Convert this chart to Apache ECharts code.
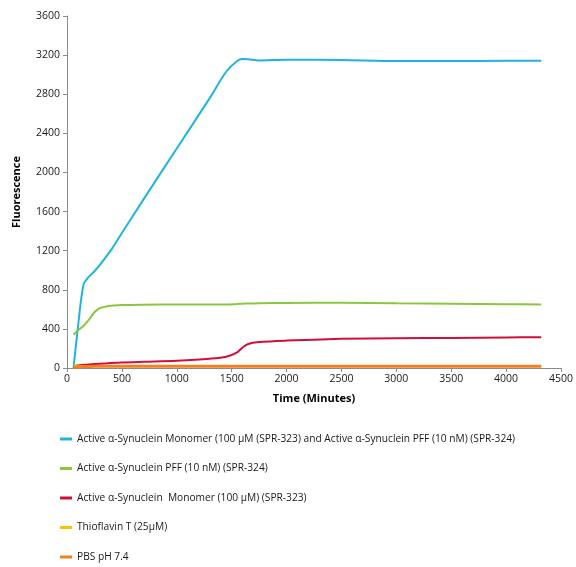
<!DOCTYPE html>
<html>
<head>
<meta charset="utf-8">
<script src="https://cdn.jsdelivr.net/npm/echarts@6/dist/echarts.min.js"></script>
<style>
  html, body { margin: 0; padding: 0; background: #fff; }
  #chart { width: 576px; height: 567px; }
</style>
</head>
<body>
<div id="chart"></div>
<script>
// time points (minutes)
const times = [60, 100, 150, 200, 250, 300, 400, 500, 700, 1000, 1300, 1450, 1550, 1600, 1650, 1750, 2000, 2500, 3000, 3500, 4000, 4320];

const monomerPlusPff = [0, 420, 850, 935, 990, 1055, 1205, 1380, 1730, 2245, 2760, 3030, 3140, 3160, 3158, 3145, 3153, 3150, 3140, 3140, 3142, 3142];
const pffOnly = [340, 385, 430, 495, 570, 612, 636, 644, 648, 650, 650, 650, 655, 658, 660, 663, 666, 667, 662, 658, 653, 650];
const monomerOnly = [10, 28, 32, 36, 40, 44, 50, 55, 63, 75, 95, 115, 160, 210, 245, 265, 280, 298, 305, 308, 312, 315];
const thioflavin = [25, 22, 21, 20, 20, 20, 20, 20, 20, 20, 20, 20, 20, 20, 20, 20, 20, 20, 20, 20, 20, 20];
const pbs = [5, 12, 15, 16, 17, 17, 17, 17, 17, 17, 17, 17, 17, 17, 17, 17, 17, 17, 17, 17, 17, 17];

const seriesNames = [
  "Active \u03b1-Synuclein Monomer (100 \u00b5M (SPR-323) and Active \u03b1-Synuclein PFF (10 nM) (SPR-324)",
  "Active \u03b1-Synuclein PFF (10 nM) (SPR-324)",
  "Active \u03b1-Synuclein  Monomer (100 \u00b5M) (SPR-323)",
  "Thioflavin T (25\u00b5M)",
  "PBS pH 7.4"
];
const seriesColors = ["#1fb4e0", "#8cc63e", "#d0103a", "#ffc000", "#f47f20"];
const seriesValues = [monomerPlusPff, pffOnly, monomerOnly, thioflavin, pbs];
const seriesWidths = [2, 2, 2, 2, 3];

const font = "Open Sans";

const chart = echarts.init(document.getElementById("chart"));

const series = seriesNames.map((name, i) => ({
  name: name,
  type: "line",
  smooth: 0.3,
  showSymbol: false,
  lineStyle: { color: seriesColors[i], width: seriesWidths[i] },
  itemStyle: { color: seriesColors[i] },
  data: times.map((t, j) => [t, seriesValues[i][j]]),
}));

chart.setOption({
  animation: false,
  grid: { left: 67, right: 12, top: 16, bottom: 199 },
  legend: {
    orient: "vertical",
    left: 55,
    top: 429,
    itemGap: 19.5,
    itemWidth: 12,
    itemHeight: 3,
    icon: "rect",
    textStyle: { fontFamily: font, fontSize: 10.2, color: "#1a1a1a" },
    data: seriesNames,
  },
  xAxis: {
    type: "value",
    min: 0,
    max: 4500,
    interval: 500,
    name: "Time (Minutes)",
    nameLocation: "middle",
    nameGap: 25,
    nameTextStyle: { fontFamily: font, fontSize: 11, fontWeight: "bold", color: "#000" },
    axisLine: { lineStyle: { color: "#8c8c8c" } },
    axisTick: { show: true, length: 4, lineStyle: { color: "#8c8c8c" } },
    axisLabel: { fontFamily: font, fontSize: 10.5, color: "#1a1a1a", margin: 6, formatter: (v) => String(v) },
    splitLine: { show: false },
  },
  yAxis: {
    type: "value",
    min: 0,
    max: 3600,
    interval: 400,
    name: "Fluorescence",
    nameLocation: "middle",
    nameGap: 45,
    nameTextStyle: { fontFamily: font, fontSize: 11, fontWeight: "bold", color: "#000" },
    axisLine: { show: true, lineStyle: { color: "#8c8c8c" } },
    axisTick: { show: true, length: 4, lineStyle: { color: "#8c8c8c" } },
    axisLabel: { fontFamily: font, fontSize: 10.5, color: "#1a1a1a", margin: 7, formatter: (v) => String(v) },
    splitLine: { show: false },
  },
  series: series,
});
</script>
</body>
</html>
